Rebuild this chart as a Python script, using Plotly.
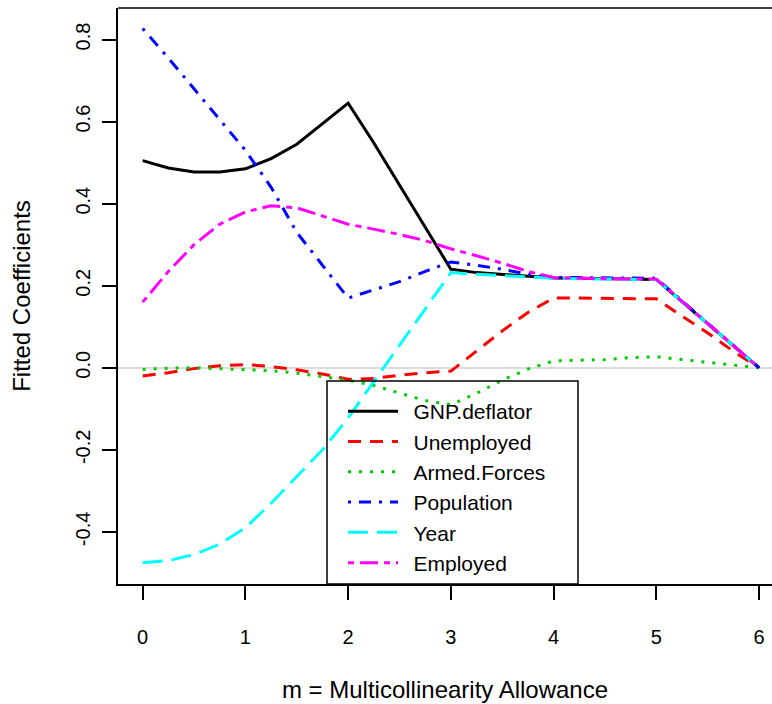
import plotly.graph_objects as go

m = [0, 0.25, 0.5, 0.75, 1.0, 1.25, 1.5, 1.75, 2.0, 2.25, 2.5, 2.75, 3.0,
     3.25, 3.5, 3.75, 4.0, 4.25, 4.5, 4.75, 5.0, 5.25, 5.5, 5.75, 6.0]

gnp_deflator = [0.505, 0.487, 0.477, 0.477, 0.485, 0.51, 0.545, 0.595, 0.645,
                0.548, 0.445, 0.345, 0.24, 0.232, 0.228, 0.223, 0.219, 0.218,
                0.217, 0.216, 0.215, 0.161, 0.108, 0.054, 0.0]
unemployed = [-0.02, -0.012, -0.002, 0.005, 0.008, 0.003, -0.005, -0.015, -0.028,
              -0.026, -0.018, -0.012, -0.008, 0.04, 0.09, 0.135, 0.17, 0.17,
              0.169, 0.169, 0.168, 0.126, 0.085, 0.04, 0.0]
armed_forces = [-0.004, -0.001, 0.0, -0.002, -0.004, -0.007, -0.013, -0.022, -0.03,
                -0.043, -0.062, -0.08, -0.09, -0.062, -0.03, -0.003, 0.017, 0.018,
                0.02, 0.025, 0.027, 0.02, 0.013, 0.006, 0.0]
population = [0.827, 0.755, 0.68, 0.605, 0.53, 0.44, 0.33, 0.25, 0.17,
              0.19, 0.21, 0.235, 0.258, 0.25, 0.24, 0.228, 0.22, 0.22,
              0.219, 0.219, 0.218, 0.163, 0.109, 0.055, 0.0]
year = [-0.475, -0.47, -0.455, -0.43, -0.39, -0.33, -0.265, -0.2, -0.122,
        -0.033, 0.055, 0.143, 0.232, 0.228, 0.225, 0.222, 0.218, 0.217,
        0.216, 0.216, 0.215, 0.161, 0.108, 0.054, 0.0]
employed = [0.16, 0.235, 0.3, 0.35, 0.38, 0.395, 0.39, 0.37, 0.35,
            0.338, 0.325, 0.31, 0.29, 0.273, 0.255, 0.235, 0.22, 0.218,
            0.217, 0.216, 0.216, 0.162, 0.108, 0.054, 0.0]

series_names = ["GNP.deflator", "Unemployed", "Armed.Forces", "Population", "Year", "Employed"]
series_values = [gnp_deflator, unemployed, armed_forces, population, year, employed]
colors = ["black", "#ff0000", "#00cd00", "#0000ff", "#00ffff", "#ff00ff"]
dashes = ["solid", "13px,9px", "3px,8px", "3px,8px,12px,8px", "20px,9px", "6px,6px,18px,6px"]

x_ticks = [0, 1, 2, 3, 4, 5, 6]
y_ticks = [-0.4, -0.2, 0.0, 0.2, 0.4, 0.6, 0.8]
y_tick_text = ["-0.4", "-0.2", "0.0", "0.2", "0.4", "0.6", "0.8"]

FONT = "Liberation Sans, Arial, sans-serif"

fig = go.Figure()
for i, (name, vals) in enumerate(zip(series_names, series_values)):
    fig.add_trace(go.Scatter(
        x=m, y=vals, mode="lines", name="\u2002" + name,
        line=dict(color=colors[i], width=3, dash=dashes[i]),
    ))

fig.update_layout(
    width=772, height=704,
    margin=dict(l=118, r=0, t=8, b=120),
    plot_bgcolor="white", paper_bgcolor="white",
    font=dict(family=FONT, size=20, color="black"),
    showlegend=True,
    legend=dict(
        x=(343 - 118) / 654, y=(584 - 391) / 576, xanchor="left", yanchor="top",
        borderwidth=0, bgcolor="rgba(0,0,0,0)",
        font=dict(size=21), tracegroupgap=0, itemwidth=50,
    ),
    xaxis=dict(
        range=[-0.24, 6.125], tickvals=x_ticks, ticks="outside", ticklen=14,
        tickwidth=1.5, tickcolor="black", showline=True, linecolor="black",
        linewidth=1.5, showgrid=False, zeroline=False, ticklabelstandoff=20,
        title=dict(text="m = Multicollinearity Allowance", standoff=34),
    ),
    yaxis=dict(
        range=[-0.527, 0.877], tickvals=y_ticks, ticktext=y_tick_text,
        tickangle=-90, ticks="outside", ticklen=14, tickwidth=1.5,
        tickcolor="black", showline=True, linecolor="black", linewidth=1.5,
        showgrid=False, zeroline=True, zerolinecolor="#dcdcdc", zerolinewidth=1.5,
        ticklabelstandoff=4,
        title=dict(text="Fitted Coefficients", standoff=35),
    ),
    shapes=[
        dict(type="line", xref="paper", yref="paper", x0=0, x1=1, y0=1, y1=1,
             line=dict(color="black", width=1.5)),
        dict(type="rect", xref="paper", yref="paper",
             x0=(327 - 118) / 654, x1=(578 - 118) / 654, y0=0, y1=(584 - 381) / 576,
             line=dict(color="black", width=1.5), fillcolor="rgba(0,0,0,0)"),
    ],
)

fig.write_html("out.html")
